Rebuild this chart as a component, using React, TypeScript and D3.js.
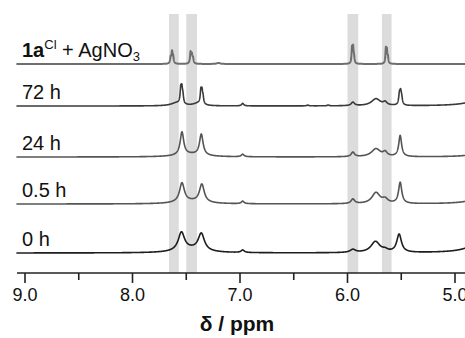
import React, { useEffect, useRef } from 'react';
import * as d3 from 'd3';

// each peak: [ppm, height, half-width at half max (ppm)]
type Peak = [number, number, number];

const spectrumNames = ['1aCl + AgNO3', '72 h', '24 h', '0.5 h', '0 h'];

const peaksComplex: Peak[] = [
  [7.645, 6, 0.006], [7.632, 11, 0.006], [7.622, 6, 0.006],
  [7.460, 11, 0.006], [7.448, 8, 0.006], [7.437, 5, 0.006],
  [7.20, 1, 0.02],
  [5.958, 15, 0.005], [5.948, 15, 0.005], [5.939, 6, 0.005],
  [5.643, 14, 0.005], [5.634, 12, 0.005], [5.624, 6, 0.005]
];

const peaks72h: Peak[] = [
  [7.59, 3, 0.06], [7.551, 14, 0.007], [7.541, 13, 0.007], [7.531, 7, 0.007],
  [7.39, 2.5, 0.05], [7.364, 12, 0.007], [7.354, 11, 0.007], [7.344, 6, 0.007],
  [6.975, 2.5, 0.012], [6.37, 0.8, 0.01], [6.18, 0.8, 0.01],
  [5.95, 3.5, 0.018], [5.735, 7, 0.05], [5.65, 3, 0.02],
  [5.517, 10, 0.008], [5.506, 11, 0.008], [5.496, 6, 0.008],
  [4.7, 12, 0.12]
];

const peaks24h: Peak[] = [
  [7.46, 2.5, 0.15],
  [7.54, 23, 0.02], [7.36, 21, 0.02],
  [6.975, 2.5, 0.015],
  [5.95, 4.5, 0.018], [5.735, 8, 0.05], [5.65, 4, 0.022],
  [5.51, 21, 0.016],
  [4.7, 6, 0.12]
];

const peaks05h: Peak[] = [
  [7.46, 2.5, 0.15],
  [7.54, 19, 0.027], [7.355, 18, 0.027],
  [6.975, 2.5, 0.015],
  [5.95, 4.5, 0.02], [5.735, 11, 0.045], [5.65, 4, 0.03],
  [5.51, 21, 0.018],
  [4.7, 10, 0.12]
];

const peaks0h: Peak[] = [
  [7.46, 3.5, 0.15],
  [7.545, 18, 0.035], [7.36, 17, 0.035],
  [6.975, 2.5, 0.018],
  [5.95, 3, 0.03], [5.74, 11, 0.05], [5.65, 2, 0.03],
  [5.52, 18, 0.026],
  [4.7, 25, 0.1]
];

const spectrumPeaks = [peaksComplex, peaks72h, peaks24h, peaks05h, peaks0h];
const spectrumColors = ['#6e6e6e', '#3a3a3a', '#555555', '#555555', '#1e1e1e'];
// vertical stacking offset of each trace (intensity units)
const stackOffsets = [189, 147, 96, 49, 0];

const majorTicks = [9.0, 8.0, 7.0, 6.0, 5.0];
const minorTicks = [8.5, 7.5, 6.5, 5.5];
const highlightBands: [number, number][] = [[7.66, 7.57], [7.50, 7.40], [6.00, 5.90], [5.68, 5.59]];

const W = 465;
const H = 338;

const App = () => {
  const ref = useRef<SVGSVGElement>(null);

  useEffect(() => {
    const svg = d3.select(ref.current);
    svg.selectAll('*').remove();

    const x = d3.scaleLinear().domain([9.0, 5.0]).range([25, 455]);
    const y = d3.scaleLinear().domain([0, 220]).range([253, 33]);
    const axisY = 273;
    const font = 'Arial, "Liberation Sans", sans-serif';

    svg.append('g')
      .selectAll('rect')
      .data(highlightBands)
      .enter()
      .append('rect')
      .attr('x', d => x(d[0]))
      .attr('width', d => x(d[1]) - x(d[0]))
      .attr('y', 14)
      .attr('height', axisY - 14)
      .attr('fill', '#dcdcdc');

    const grid = d3.range(9.08, 4.899, -0.001);
    const line = d3.line<[number, number]>()
      .x(d => x(d[0]))
      .y(d => y(d[1]));

    spectrumPeaks.forEach((peaks, i) => {
      const pts: [number, number][] = grid.map(p => {
        let v = 0;
        peaks.forEach(([c, h, w]) => {
          const u = (p - c) / w;
          v += h / (1 + u * u);
        });
        return [p, v + stackOffsets[i]];
      });
      svg.append('path')
        .attr('d', line(pts))
        .attr('fill', 'none')
        .attr('stroke', spectrumColors[i])
        .attr('stroke-width', i === 0 ? 2 : 1.6)
        .attr('stroke-linejoin', 'round');
    });

    const labels = svg.append('g')
      .attr('font-family', font)
      .attr('font-size', 20)
      .attr('fill', '#111');

    spectrumNames.forEach((name, i) => {
      const t = labels.append('text')
        .attr('x', 22)
        .attr('y', y(stackOffsets[i]) - 7);
      if (i === 0) {
        t.append('tspan').attr('font-weight', 'bold').text('1a');
        t.append('tspan').attr('font-size', 13).attr('dy', -8).text('Cl');
        t.append('tspan').attr('dy', 8).text(' + AgNO');
        t.append('tspan').attr('font-size', 13).attr('dy', 4).text('3');
      } else {
        t.text(name);
      }
    });

    const axis = svg.append('g').attr('stroke', '#222').attr('stroke-width', 1.6);
    axis.append('line')
      .attr('x1', 17).attr('x2', W)
      .attr('y1', axisY).attr('y2', axisY);
    axis.selectAll('.major')
      .data(majorTicks)
      .enter()
      .append('line')
      .attr('x1', d => x(d)).attr('x2', d => x(d))
      .attr('y1', axisY).attr('y2', axisY + 10);
    axis.selectAll('.minor')
      .data(minorTicks)
      .enter()
      .append('line')
      .attr('x1', d => x(d)).attr('x2', d => x(d))
      .attr('y1', axisY).attr('y2', axisY + 7);

    svg.append('g')
      .attr('font-family', font)
      .attr('font-size', 18)
      .attr('fill', '#111')
      .attr('text-anchor', 'middle')
      .selectAll('text')
      .data(majorTicks)
      .enter()
      .append('text')
      .attr('x', d => x(d))
      .attr('y', 301)
      .text(d => d.toFixed(1));

    svg.append('text')
      .attr('x', 237)
      .attr('y', 331)
      .attr('text-anchor', 'middle')
      .attr('font-family', font)
      .attr('font-size', 21)
      .attr('font-weight', 'bold')
      .attr('fill', '#111')
      .text('δ / ppm');
  }, []);

  return (
    <svg ref={ref} width={W} height={H} style={{ position: 'absolute', left: 0, top: 0, background: '#fff' }} />
  );
};

export default App;
